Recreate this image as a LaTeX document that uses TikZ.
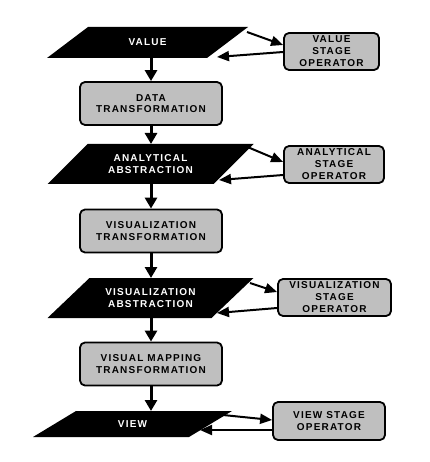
\documentclass[tikz,border=0pt]{standalone}
\usepackage{fontspec}
\usetikzlibrary{arrows.meta,backgrounds}
\newfontfamily\hopfont[LetterSpace=12]{Liberation Sans Bold}

\begin{document}
\begin{tikzpicture}[x=1pt, y=-1pt, line join=round, font=\hopfont\fontsize{10}{11.5}\selectfont,
	buoc/.style={draw, line width=1.8pt, rounded corners=5pt, fill=gray!50, align=center, minimum width=142pt, minimum height=43pt, inner sep=0pt},
	toantu/.style={buoc, minimum height=37pt, font=\hopfont\fontsize{10}{12}\selectfont},
	trangthai/.style={text=white, align=center, inner sep=0pt, outer sep=0pt},
	muiten/.style={-{Triangle[length=11pt,width=12pt]}, line width=3pt},
	muinho/.style={-{Triangle[length=12pt,width=10pt]}, line width=2pt}]
	% Khung hình
	\useasboundingbox (0,0) rectangle (429,462);
	
	% Các trạng thái (hình bình hành)
	\node[trangthai, minimum width=160pt, minimum height=31pt] (val) at (147.5,42.5) {VALUE};
	\node[trangthai, minimum width=166pt, minimum height=40pt] (aa) at (150.5,164) {ANALYTICAL\\ABSTRACTION};
	\node[trangthai, minimum width=164pt, minimum height=40pt] (va) at (150.5,298) {VISUALIZATION\\ABSTRACTION};
	\node[trangthai, minimum width=156pt, minimum height=26pt] (vw) at (132.5,424) {VIEW};
	\begin{scope}[on background layer]
		\foreach \n/\s in {val/20.5, aa/20, va/21, vw/21.5}
			\fill ([xshift=\s pt]\n.north west) -- ([xshift=\s pt]\n.north east)
				-- ([xshift=-\s pt]\n.south east) -- ([xshift=-\s pt]\n.south west) -- cycle;
	\end{scope}
	
	% Các phép biến đổi
	\node[buoc] (dt) at (151,103.5) {DATA\\TRANSFORMATION};
	\node[buoc] (vt) at (151,231) {VISUALIZATION\\TRANSFORMATION};
	\node[buoc] (vm) at (151,364) {VISUAL MAPPING\\TRANSFORMATION};
	
	% Các toán tử
	\node[toantu, minimum width=95pt] (vso) at (331.5,51.5) {VALUE\\STAGE\\OPERATOR};
	\node[toantu, minimum width=100pt] (aso) at (334,164.5) {ANALYTICAL\\STAGE\\OPERATOR};
	\node[toantu, minimum width=113pt] (vsso) at (334.5,297.5) {VISUALIZATION\\STAGE\\OPERATOR};
	\node[toantu, minimum width=112pt, minimum height=38pt] (wso) at (329,421) {VIEW STAGE\\OPERATOR};
	
	% Mũi tên dọc
	\foreach \a/\b in {val/dt, dt/aa, aa/vt, vt/va, va/vm, vm/vw}
		\draw[muiten] (\a.south -| dt.center) -- (\b.north -| dt.center);
	
	% Mũi tên hai chiều với toán tử
	\draw[muinho] ([shift={(19.5,5)}]val.north east) -- ([shift={(0,-6.5)}]vso.west);
	\draw[muinho] ([shift={(0,0.5)}]vso.west) -- ([shift={(-10.5,-1)}]val.south east);
	\draw[muinho] ([shift={(14,3)}]aa.north east) -- ([shift={(0,-2.5)}]aso.west);
	\draw[muinho] ([shift={(0,10.5)}]aso.west) -- ([shift={(-14.5,-4)}]aa.south east);
	\draw[muinho] ([shift={(17.5,5)}]va.north east) -- ([shift={(0,-5.5)}]vsso.west);
	\draw[muinho] ([shift={(0,10.5)}]vsso.west) -- ([shift={(-15.5,-5)}]va.south east);
	\draw[muinho] ([shift={(12.5,4)}]vw.north east) -- ([shift={(0,-1)}]wso.west);
	\draw[muinho] ([shift={(0,9)}]wso.west) -- ([shift={(-10.5,-7)}]vw.south east);
\end{tikzpicture}
\end{document}
